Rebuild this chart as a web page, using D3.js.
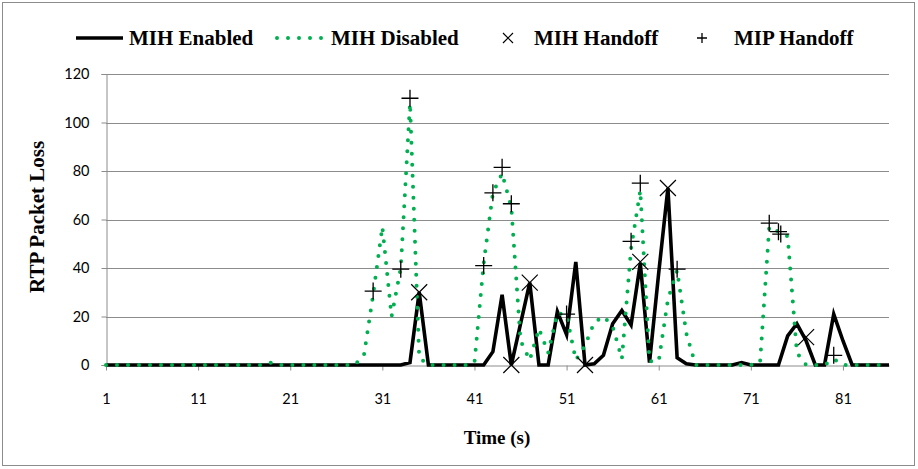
<!DOCTYPE html>
<html><head><meta charset="utf-8">
<script src="https://cdn.jsdelivr.net/npm/d3@7/dist/d3.min.js"></script>
<style>body{margin:0;background:#fff}svg{display:block}</style>
</head><body>
<svg id="c" width="918" height="469"></svg>
<script>
const times = [1,2,3,4,5,6,7,8,9,10,11,12,13,14,15,16,17,18,19,20,21,22,23,24,25,26,27,28,29,30,
31,32,33,34,35,36,37,38,39,40,41,42,43,44,45,46,47,48,49,50,51,52,53,54,55,56,57,58,59,60,
61,62,63,64,65,66,67,68,69,70,71,72,73,74,75,76,77,78,79,80,81,82,83,84,85,86];
const mihEnabled = [0,0,0,0,0,0,0,0,0,0, 0,0,0,0,0,0,0,0,0,0, 0,0,0,0,0,0,0,0,0,0,
0,0,0,1,30,0,0,0,0,0, 0,0,5.5,29,0,17,34,0,0,22, 12.5,42.5,0,0.5,4,17,22.5,16.5,42,1,
38,73,3,0.5,0,0,0,0,0,1, 0,0,0,0,12,17,10,0,0,21, 10,0,0,0,0,0];
const mihDisabled = [0,0,0,0,0,0,0,0,0,0, 0,0,0,0,0,0,0,0,1,0, 0,0,0,0,0,0,0,0,4,29,
57,20,40,108,3,0,0,0,0,0, 1,42,71,79,65,10,2,15,5,21.5, 20.5,2,8,17.5,20,16,2.5,48,72,1.5,
1.5,27,39,13,0,0,0,0,0,0, 0,1,57,55,53,5,0,0,0,2.5, 0,0,0,0,0,0];
const mihHandoffT = [35,45,47,53,59,62,77];
const mihHandoffV = [30,0,34,0,42.5,73,11.5];
const mipHandoffT = [30,33,34,42,43,44,45,51,58,59,63,73,74,74.25,80];
const mipHandoffV = [30.5,39.5,110,41,71,81.5,66.5,21,51,75,39.5,58.5,55,54,4];
const xTicks = [1,11,21,31,41,51,61,71,81];
const yTicks = [0,20,40,60,80,100,120];
const seriesNames = ["MIH Enabled","MIH Disabled","MIH Handoff","MIP Handoff"];

const svg = d3.select("#c");
const green = "#00B050";
const x = d3.scaleLinear().domain([1,86]).range([106,889]);
const y = d3.scaleLinear().domain([0,120]).range([365,74]);

svg.append("rect").attr("x",2.5).attr("y",2.5).attr("width",912).attr("height",463)
  .attr("fill","#fff").attr("stroke","#8c8c8c").attr("stroke-width",1);

// gridlines
svg.append("g").selectAll("line").data(yTicks.filter(d=>d>0)).join("line")
  .attr("x1",x(1)).attr("x2",x(86)).attr("y1",d=>Math.round(y(d))+0.5).attr("y2",d=>Math.round(y(d))+0.5)
  .attr("stroke","#8c8c8c").attr("stroke-width",1);

// y axis
const ya = svg.append("g").attr("transform",`translate(${x(1)+0.5},0)`)
  .call(d3.axisLeft(y).tickValues(yTicks).tickSize(5).tickPadding(12));
ya.select(".domain").attr("stroke","#8c8c8c");
ya.selectAll(".tick line").attr("stroke","#8c8c8c");
ya.selectAll("text").attr("font-family","Lato, 'Open Sans', sans-serif").attr("font-size",14.5).attr("fill","#000");

// x axis
const xa = svg.append("g").attr("transform",`translate(0,${y(0)+0.5})`)
  .call(d3.axisBottom(x).tickValues(xTicks).tickSize(5).tickPadding(23).tickSizeOuter(0));
xa.select(".domain").attr("stroke","#8c8c8c");
xa.selectAll(".tick line").attr("stroke","#8c8c8c");
xa.selectAll("text").attr("font-family","Lato, 'Open Sans', sans-serif").attr("font-size",14.5).attr("fill","#000");

const line = d3.line().x((d,i)=>x(times[i])).y(d=>y(d));
svg.append("path").datum(mihEnabled).attr("d",line).attr("fill","none")
  .attr("stroke","#000").attr("stroke-width",3.6).attr("stroke-linejoin","miter");
svg.append("path").datum(mihDisabled).attr("d",line).attr("fill","none")
  .attr("stroke",green).attr("stroke-width",4).attr("stroke-linecap","round")
  .attr("stroke-dasharray","0,11");

function xMark(g, cx, cy, r){
  g.append("path").attr("d",`M${cx-r},${cy-r}L${cx+r},${cy+r}M${cx-r},${cy+r}L${cx+r},${cy-r}`)
   .attr("stroke","#000").attr("stroke-width",1.2).attr("fill","none");
}
function plusMark(g, cx, cy, r){
  g.append("path").attr("d",`M${cx-r},${cy}L${cx+r},${cy}M${cx},${cy-r}L${cx},${cy+r}`)
   .attr("stroke","#000").attr("stroke-width",1.3).attr("fill","none");
}
const mk = svg.append("g");
mihHandoffT.forEach((t,i)=>xMark(mk, x(t), y(mihHandoffV[i]), 8));
mipHandoffT.forEach((t,i)=>plusMark(mk, x(t), y(mipHandoffV[i]), 8.5));

// axis titles
svg.append("text").attr("x",497).attr("y",444).attr("text-anchor","middle")
  .attr("font-family","'Liberation Serif', serif").attr("font-weight","bold").attr("font-size",19).text("Time (s)");
svg.append("text").attr("transform","translate(44,217) rotate(-90)").attr("text-anchor","middle")
  .attr("font-family","'Liberation Serif', serif").attr("font-weight","bold").attr("font-size",21).text("RTP Packet Loss");

// legend
const lg = svg.append("g").attr("font-family","'Liberation Serif', serif").attr("font-weight","bold").attr("font-size",21);
const ly = 38;
lg.append("line").attr("x1",76).attr("x2",123).attr("y1",ly).attr("y2",ly).attr("stroke","#000").attr("stroke-width",3.6);
lg.append("text").attr("x",129).attr("y",ly+7).text(seriesNames[0]);
lg.append("line").attr("x1",277).attr("x2",325).attr("y1",ly).attr("y2",ly).attr("stroke",green)
  .attr("stroke-width",4).attr("stroke-linecap","round").attr("stroke-dasharray","0,11");
lg.append("text").attr("x",331).attr("y",ly+7).text(seriesNames[1]);
xMark(lg, 508, ly, 5);
lg.append("text").attr("x",534).attr("y",ly+7).text(seriesNames[2]);
plusMark(lg, 702, ly, 5);
lg.append("text").attr("x",734).attr("y",ly+7).text(seriesNames[3]);
</script>
</body></html>
